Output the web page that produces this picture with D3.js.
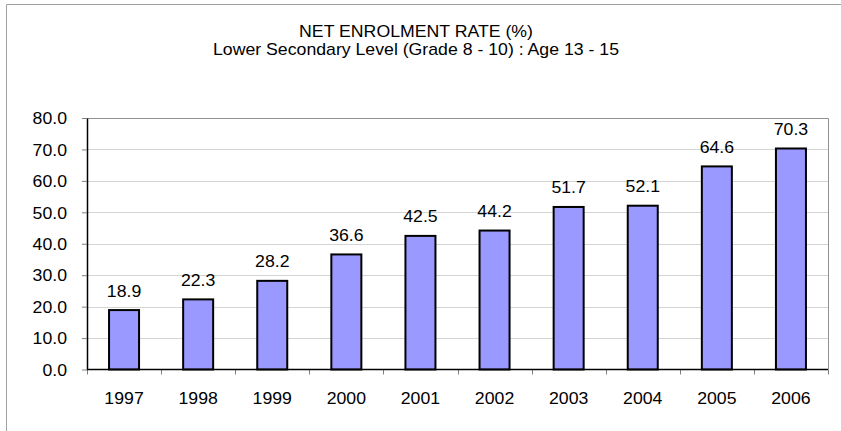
<!DOCTYPE html>
<html>
<head>
<meta charset="utf-8">
<script src="https://cdn.jsdelivr.net/npm/d3@7"></script>
<style>
  body { margin: 0; background: #fff; }
  text { font-family: "Liberation Sans", Arial, sans-serif; fill: #000; }
</style>
</head>
<body>
<script>
// data
const years = ["1997", "1998", "1999", "2000", "2001", "2002", "2003", "2004", "2005", "2006"];
const rates = [18.9, 22.3, 28.2, 36.6, 42.5, 44.2, 51.7, 52.1, 64.6, 70.3];
const yTicks = [0, 10, 20, 30, 40, 50, 60, 70, 80];
const titleLines = ["NET ENROLMENT RATE (%)", "Lower Secondary Level (Grade 8 - 10) : Age 13 - 15"];

const width = 841;
const height = 431;
const plot = {left: 87, top: 118, right: 828, bottom: 369.5};
const fontSize = "15.8px";
const stretch = 1.12; // the original text is a bit wider than plain Arial

let svg = d3.select("body").append("svg")
  .attr("width", width)
  .attr("height", height);

// outer chart frame (runs off the right and bottom edges)
svg.append("path")
  .attr("d", "M6.5," + (height + 2) + "V4.5H" + (width + 2))
  .attr("fill", "none")
  .attr("stroke", "#a0a0a0")
  .attr("stroke-width", 1);

//places a text at (px,py) stretched horizontally
function wideText(sel, px, py) {
  return sel.attr("transform", (d, i) => "translate(" + px(d, i) + "," + py(d, i) + ") scale(" + stretch + ",1)")
    .attr("text-anchor", "middle")
    .style("font-size", fontSize);
}

//title
svg.append("g").selectAll("text")
  .data(titleLines)
  .enter().append("text")
    .call(wideText, () => 416, (d, i) => 37.3 + i * 17.8)
    .text(d => d);

let x = d3.scaleBand()
  .domain(years)
  .range([plot.left, plot.right])
  .paddingInner(0.595)
  .paddingOuter(0.2975);

let y = d3.scaleLinear()
  .domain([0, 80])
  .range([plot.bottom, plot.top]);

//gridlines
svg.append("g").selectAll("line")
  .data(yTicks.slice(1, -1))
  .enter().append("line")
    .attr("x1", plot.left)
    .attr("x2", plot.right)
    .attr("y1", d => Math.round(y(d)) + 0.5)
    .attr("y2", d => Math.round(y(d)) + 0.5)
    .attr("stroke", "#d4d4d4");

// plot area border (top & right grey)
svg.append("path")
  .attr("d", "M" + plot.left + "," + (Math.round(plot.top) + 0.5) + "H" + (Math.round(plot.right) + 0.5) + "V" + plot.bottom)
  .attr("fill", "none")
  .attr("stroke", "#909090");

//bars
svg.append("g").selectAll("rect")
  .data(rates)
  .enter().append("rect")
    .attr("x", (d, i) => x(years[i]))
    .attr("y", d => y(d))
    .attr("width", x.bandwidth())
    .attr("height", d => plot.bottom - y(d))
    .attr("fill", "#9999ff")
    .attr("stroke", "#000")
    .attr("stroke-width", 2);

//value labels
svg.append("g").selectAll("text")
  .data(rates)
  .enter().append("text")
    .call(wideText, (d, i) => x(years[i]) + x.bandwidth() / 2, d => y(d) - 13.5)
    .text(d => d.toFixed(1));

//y axis
let yAxis = svg.append("g")
  .attr("transform", "translate(" + plot.left + ",0)")
  .call(d3.axisLeft(y).tickValues(yTicks).tickFormat(d3.format(".1f")).tickSize(5).tickSizeOuter(0));
yAxis.select(".domain").attr("stroke", "#000").attr("stroke-width", 1.5);
yAxis.selectAll(".tick line").attr("stroke", "#808080");
yAxis.selectAll(".tick text")
  .attr("x", -20 / stretch)
  .attr("dy", "0.36em")
  .attr("transform", "scale(" + stretch + ",1)")
  .style("font-size", fontSize)
  .style("font-family", "'Liberation Sans', Arial, sans-serif");

//x axis
let xEdge = d3.scaleLinear().domain([0, years.length]).range([plot.left, plot.right]);
svg.append("g").selectAll("line")
  .data(d3.range(years.length + 1))
  .enter().append("line")
    .attr("x1", d => Math.round(xEdge(d)) + 0.5)
    .attr("x2", d => Math.round(xEdge(d)) + 0.5)
    .attr("y1", plot.bottom)
    .attr("y2", plot.bottom + 5)
    .attr("stroke", "#808080");
svg.append("line")
  .attr("x1", plot.left)
  .attr("x2", plot.right)
  .attr("y1", plot.bottom)
  .attr("y2", plot.bottom)
  .attr("stroke", "#000")
  .attr("stroke-width", 1.5);
svg.append("g").selectAll("text")
  .data(years)
  .enter().append("text")
    .call(wideText, d => x(d) + x.bandwidth() / 2, () => 403.5)
    .text(d => d);
</script>
</body>
</html>
